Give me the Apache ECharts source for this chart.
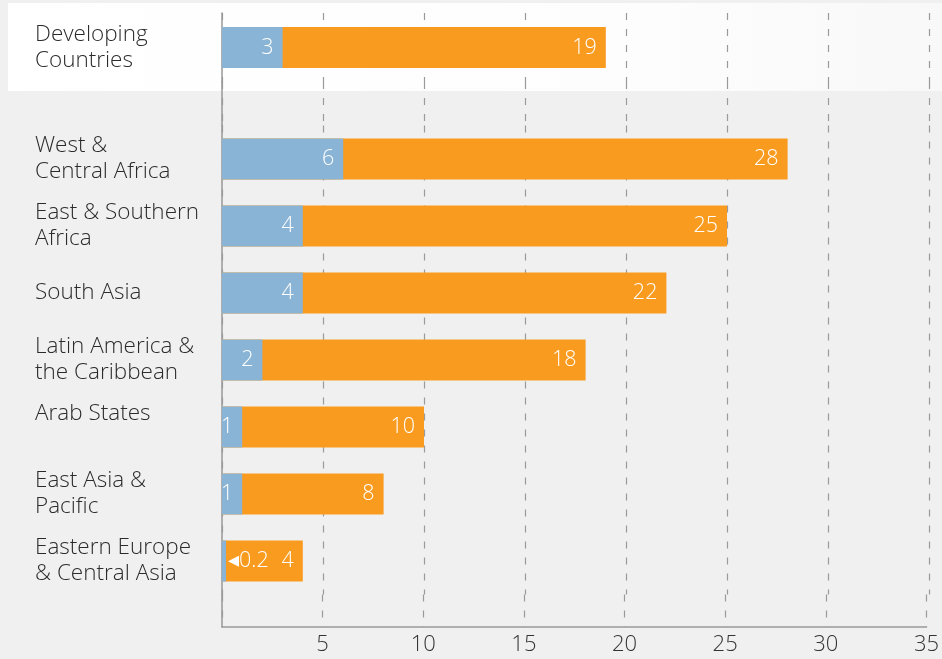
<!DOCTYPE html>
<html><head><meta charset="utf-8">
<script src="https://cdn.jsdelivr.net/npm/echarts@6/dist/echarts.min.js"></script>
<style>html,body{margin:0;padding:0;background:#f0f0f0}#c{width:942px;height:659px}</style>
</head><body><div id="c"></div>
<script>
const topCategory = ['Developing\nCountries'];
const topBlue = [3];
const topOrange = [19];
const regionCategories = ['West &\nCentral Africa','East & Southern\nAfrica','South Asia','Latin America &\nthe Caribbean','Arab States\n ','East Asia &\nPacific','Eastern Europe\n& Central Asia'];
const regionBlue = [6, 4, 4, 2, 1, 1, 0.2];
const regionOrange = [28, 25, 22, 18, 10, 8, 4];
const xTicks = [0,5,10,15,20,25,30,35];

const FONT = 'Open Sans';
const W = 300;
const BLUE = '#8ab4d5', ORANGE = '#f99b1f';
const chart = echarts.init(document.getElementById('c'));
const L = 222, R = 13;
const grids = [
  {left:L, right:R, top:13, height:69},
  {left:L, right:R, top:82, height:43.5},
  {left:L, right:R, top:125.5, height:469},
  {left:L, right:R, top:594.5, height:32.5}
];
const splitLine = {show:true, lineStyle:{color:'#9a9a9a', type:[7,9], width:1.2}};
function xAx(i, showLabels){
  return {gridIndex:i, type:'value', min:xTicks[0], max:xTicks[xTicks.length-1], interval:xTicks[1]-xTicks[0],
    splitLine, axisTick:{show:false},
    axisLine:{show:showLabels, lineStyle:{color:'#999', width:1.5}},
    axisLabel:{show:showLabels, showMinLabel:false, color:'#333', fontFamily:FONT, fontWeight:W, fontSize:22, margin:7}};
}
function yAx(i, data, showLabels){
  return {gridIndex:i, type:'category', inverse:true, data,
    axisTick:{show:false}, axisLine:{show:true, lineStyle:{color:'#999', width:1.5}},
    axisLabel:{show:showLabels, align:'left', margin:187, color:'#2b2b2b', fontFamily:FONT, fontWeight:W, fontSize:22.5, lineHeight:26}};
}
const lbl = {show:true, position:'insideRight', distance:9, color:'#fff', fontFamily:FONT, fontWeight:W, fontSize:21.5};
function series(i, blue, orange){
  return [
    {type:'bar', xAxisIndex:i, yAxisIndex:i, data:orange, barWidth:41, barGap:'-100%', itemStyle:{color:ORANGE}, label:lbl, z:2},
    {type:'bar', xAxisIndex:i, yAxisIndex:i, data:blue, barWidth:41, barGap:'-100%', itemStyle:{color:BLUE}, z:3,
     label:Object.assign({}, lbl, {formatter:p => p.value < 0.5 ? '\u25C2' + p.value : '' + p.value})}
  ];
}
const s2 = series(2, regionBlue, regionOrange);
s2[1].data = regionBlue.map(v => v < 0.5 ? {value:v, label:{position:'right', distance:2}} : v);
chart.setOption({
  backgroundColor:'#f0f0f0',
  animation:false,
  graphic:[{type:'rect', left:8, top:3, shape:{width:934, height:88}, z:-100,
    style:{fill:new echarts.graphic.LinearGradient(0,0,1,0,[{offset:0,color:'#ffffff'},{offset:0.7,color:'#fdfdfd'},{offset:1,color:'#f8f8f8'}])}}],
  grid:grids,
  xAxis:[xAx(0,false), xAx(1,false), xAx(2,false), xAx(3,true)],
  yAxis:[yAx(0, topCategory, true), yAx(1, [''], false), yAx(2, regionCategories, true), yAx(3, [''], false)],
  series:[...series(0, topBlue, topOrange), ...s2]
});
</script></body></html>
